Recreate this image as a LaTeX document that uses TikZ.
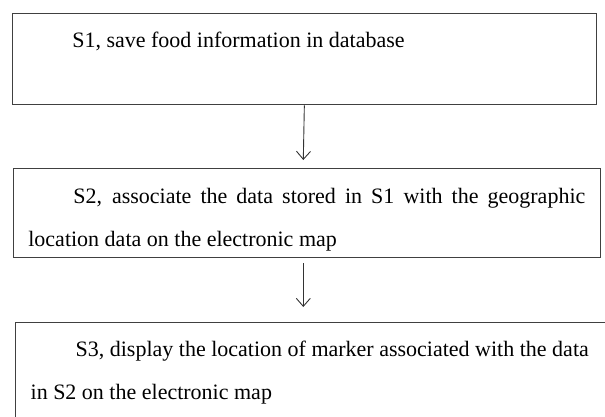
\documentclass[tikz,border=0pt]{standalone}
\usepackage{fontspec}
\setmainfont{Liberation Serif}
\usetikzlibrary{arrows.meta}

\begin{document}
\begin{tikzpicture}[x=1pt, y=-1pt,
    stepbox/.style={draw=black!75, line width=1.3pt, inner xsep=15pt, inner ysep=0pt, anchor=north west},
    flow/.style={draw=black!80, line width=0.9pt, -{Straight Barb[length=8pt,width=14pt]}}]
        \useasboundingbox (0,0) rectangle (605,416);
        \clip (0,0) rectangle (605,416);
        \fontsize{22}{42.5}\selectfont
        
        % Pasos
        \node[stepbox] (s1) at (11.7,12.7) {\parbox[c][91.3pt][t]{554pt}{\rule{0pt}{34pt}\hspace*{45pt}S1, save food information in database}};
        \node[stepbox] (s2) at (12.7,168) {\parbox[c][89pt][t]{557pt}{\rule{0pt}{35pt}\hspace*{45pt}S2, associate the data stored in S1 with the geographic\linebreak location data on the electronic map}};
        \node[stepbox] (s3) at (15,322) {\parbox[c][120pt][t]{580pt}{\rule{0pt}{34pt}\hspace*{45pt}S3, display the location of marker associated with the data\\ in S2 on the electronic map}};
        
        % Flechas
        \coordinate (a1) at (303.3,160);
        \coordinate (b0) at (303.3,263);
        \coordinate (b1) at (303.3,307);
        \draw[flow] (s1.south) -- (a1);
        \draw[flow] (b0) -- (b1);
    \end{tikzpicture}
\end{document}
